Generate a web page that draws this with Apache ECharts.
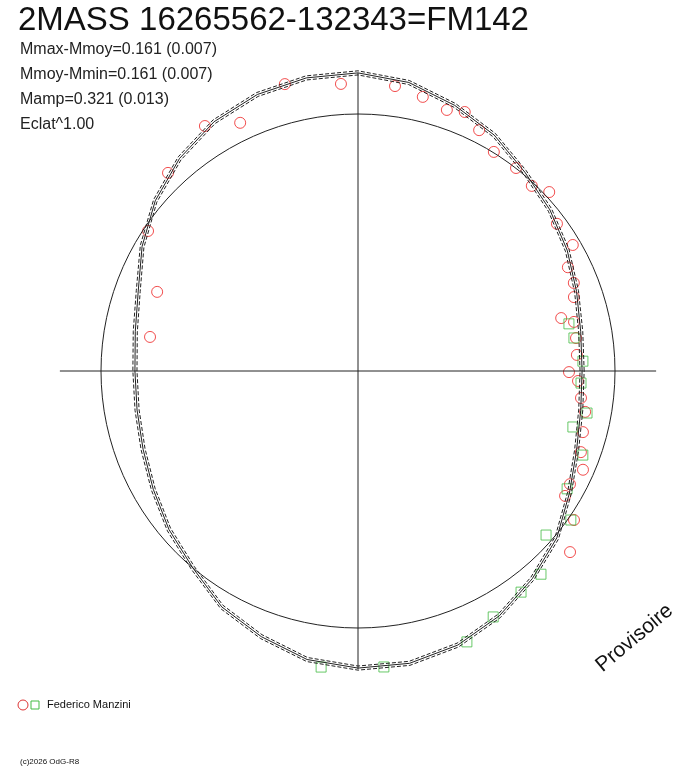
<!DOCTYPE html>
<html><head><meta charset="utf-8">
<script src="https://cdn.jsdelivr.net/npm/echarts@6/dist/echarts.min.js"></script>
<style>html,body{margin:0;background:#fff}#c{width:688px;height:768px}</style>
</head><body><div id="c"></div>
<script>
// polar light curve: [radius, angle deg]; reference circle radius = 1
const redPts = [[1.152,104.3],[1.119,93.4],[1.118,82.6],[1.096,76.7],[1.073,71.2],[1.090,67.6],[1.049,63.3],
  [1.003,58.2],[1.001,52.1],[0.988,46.8],[1.019,43.1],[0.963,36.5],[0.969,30.4],[0.911,26.3],[0.907,22.2],
  [0.888,18.9],[0.817,14.6],[0.862,12.8],[0.858,8.6],[0.854,4.2],[0.821,-0.3],[0.857,-2.6],[0.874,-6.9],
  [0.898,-10.2],[0.907,-15.2],[0.923,-20.0],[0.956,-23.7],[0.935,-28.1],[0.941,-31.1],[1.021,-34.6],
  [1.085,-40.5],[1.069,115.4],[1.124,122.0],[1.068,133.8],[0.982,146.3],[0.840,158.5],[0.820,170.7]];
const greenPts = [[0.841,12.6],[0.850,8.7],[0.876,2.5],[0.869,-3.1],[0.906,-10.4],[0.864,-14.6],[0.934,-20.5],
  [0.934,-29.4],[1.011,-35.0],[0.971,-41.1],[1.064,-48.0],[1.069,-53.6],[1.092,-61.2],[1.136,-68.1],
  [1.156,-85.0],[1.161,-97.1]];
const fitAngles = [0,10,20,30,40,50,60,70,80,90,100,110,120,130,140,150,160,170,180,
  190,200,210,220,230,240,250,260,270,280,290,300,310,320,330,340,350,360];
const fitRadius = [0.872,0.88,0.905,0.94,0.975,1.01,1.06,1.10,1.14,1.16,1.158,1.145,1.12,1.08,1.03,0.97,0.91,0.88,0.868,
  0.873,0.89,0.92,0.96,1.00,1.06,1.10,1.14,1.156,1.155,1.135,1.10,1.055,1.01,0.95,0.905,0.88,0.872];
const fitErr = 0.008;
const circleAngles = Array.from({ length: 121 }, (_, i) => i * 3);
const stats = ['Mmax-Mmoy=0.161 (0.007)', 'Mmoy-Mmin=0.161 (0.007)', 'Mamp=0.321 (0.013)', 'Eclat^1.00'];

const fit = (d) => fitAngles.map((a, i) => [fitRadius[i] + d, a]);
const refCircle = circleAngles.map(a => [1, a]);
const lineStyle = (t) => ({ color: '#222', width: 1, type: t });

const chart = echarts.init(document.getElementById('c'));
chart.setOption({
  animation: false,
  polar: { center: [358, 371], radius: 308.4 },
  angleAxis: { type: 'value', min: 0, max: 360, startAngle: 0, clockwise: false, show: false },
  radiusAxis: { type: 'value', min: 0, max: 1.2, show: false },
  graphic: [
    { type: 'text', left: 18, top: 4, style: { text: '2MASS 16265562-132343=FM142', font: '33px "Liberation Sans", Arial', fill: '#111' } },
    ...stats.map((s, i) => ({ type: 'text', left: 20, top: 42 + i * 25, style: { text: s, font: '16px "Liberation Sans", Arial', fill: '#222' } })),
    { type: 'text', x: 592, y: 660, rotation: Math.PI * 40 / 180, style: { text: 'Provisoire', font: '21px "Liberation Sans", Arial', fill: '#111' } },
    { type: 'circle', shape: { cx: 23, cy: 705, r: 5 }, style: { fill: 'none', stroke: '#d33', lineWidth: 1 } },
    { type: 'rect', shape: { x: 31, y: 701, width: 8, height: 8 }, style: { fill: 'none', stroke: '#4b4', lineWidth: 1 } },
    { type: 'text', left: 47, top: 699, style: { text: 'Federico Manzini', font: '11px "Liberation Sans", Arial', fill: '#111' } },
    { type: 'text', left: 20, top: 758, style: { text: '(c)2026 OdG-R8', font: '8px "Liberation Sans", Arial', fill: '#111' } }
  ],
  series: [
    { type: 'line', coordinateSystem: 'polar', data: [[1.16, 0], [1.16, 180]], symbol: 'none', lineStyle: lineStyle('solid'), silent: true },
    { type: 'line', coordinateSystem: 'polar', data: [[1.16, 90], [1.16, 270]], symbol: 'none', lineStyle: lineStyle('solid'), silent: true },
    { type: 'line', coordinateSystem: 'polar', data: refCircle, symbol: 'none', lineStyle: lineStyle('solid') },
    { type: 'line', coordinateSystem: 'polar', data: fit(0), symbol: 'none', lineStyle: lineStyle('solid') },
    { type: 'line', coordinateSystem: 'polar', data: fit(fitErr), symbol: 'none', lineStyle: lineStyle([4, 2]) },
    { type: 'line', coordinateSystem: 'polar', data: fit(-fitErr), symbol: 'none', lineStyle: lineStyle([4, 2]) },
    { type: 'scatter', coordinateSystem: 'polar', data: redPts, symbol: 'circle', symbolSize: 11,
      itemStyle: { color: 'rgba(0,0,0,0)', borderColor: '#e22', borderWidth: 1 } },
    { type: 'scatter', coordinateSystem: 'polar', data: greenPts, symbol: 'rect', symbolSize: 10,
      itemStyle: { color: 'rgba(0,0,0,0)', borderColor: '#4b4', borderWidth: 1 } }
  ]
});
</script></body></html>
